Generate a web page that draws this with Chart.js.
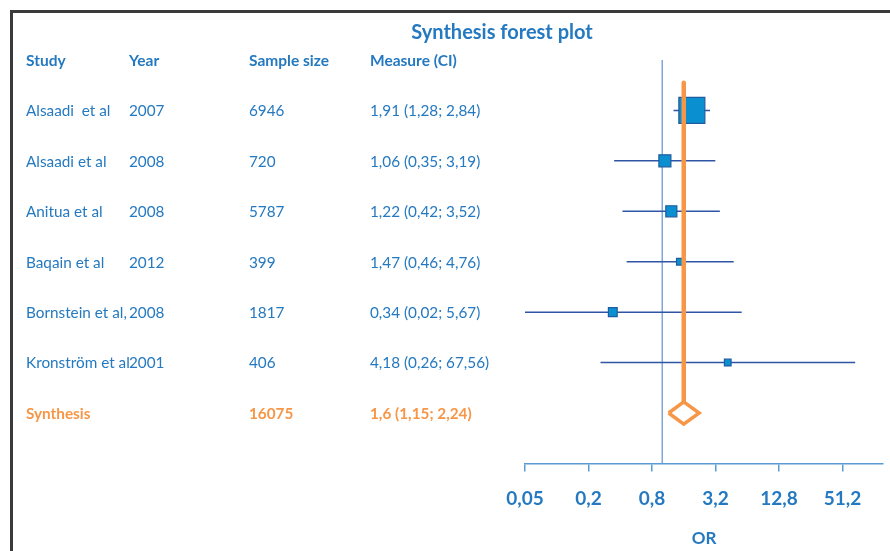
<!DOCTYPE html>
<html lang="en">
<head>
    <meta charset="UTF-8">
    <title>Synthesis forest plot</title>
    <script src="https://cdn.jsdelivr.net/npm/chart.js@4.4.0/dist/chart.umd.min.js"></script>
    <style>
        body { margin: 0; background: #ffffff; overflow: hidden; }
        .chart-container { position: relative; width: 890px; height: 551px; }
    </style>
</head>
<body>
    <div class="chart-container">
        <canvas id="forestChart"></canvas>
    </div>

    <script>
        // Study data
        const studies = ['Alsaadi  et al', 'Alsaadi et al', 'Anitua et al', 'Baqain et al', 'Bornstein et al,', 'Kronström et al'];
        const years = ['2007', '2008', '2008', '2012', '2008', '2001'];
        const sampleSizes = [6946, 720, 5787, 399, 1817, 406];
        const oddsRatios = [1.91, 1.06, 1.22, 1.47, 0.34, 4.18];
        const ciLower = [1.28, 0.35, 0.42, 0.46, 0.02, 0.26];
        const ciUpper = [2.84, 3.19, 3.52, 4.76, 5.67, 67.56];
        const weights = [61, 13, 11, 4, 7, 4];   // % weight, drives square size

        // Pooled estimate
        const synthLabel = 'Synthesis';
        const synthN = 16075;
        const synthOR = 1.6;
        const synthLower = 1.15;
        const synthUpper = 2.24;

        const headers = ['Study', 'Year', 'Sample size', 'Measure (CI)'];
        const tickValues = [0.05, 0.2, 0.8, 3.2, 12.8, 51.2];

        const blue = '#2479c0';
        const orange = '#f79646';
        const font = 'Lato, "Open Sans", sans-serif';
        const colX = [26, 129, 249, 370];

        const fmt = v => String(v).replace('.', ',');
        const measureText = (m, lo, hi) => fmt(m) + ' (' + fmt(lo) + '; ' + fmt(hi) + ')';

        const synthRow = studies.length;
        const diamondHalf = 0.22;

        // Frame, title and the table on the left
        const tablePlugin = {
            id: 'tablePlugin',
            beforeDraw(chart) {
                const ctx = chart.ctx;
                ctx.save();
                ctx.fillStyle = '#ffffff';
                ctx.fillRect(0, 0, chart.width, chart.height);
                ctx.fillStyle = '#3a3a3a';
                ctx.fillRect(10, 10, chart.width - 10, 3);
                ctx.fillRect(10, 10, 3, chart.height - 10);
                ctx.restore();
            },
            afterDraw(chart) {
                const ctx = chart.ctx;
                const y = chart.scales.y;
                ctx.save();
                ctx.textBaseline = 'middle';

                ctx.fillStyle = blue;
                ctx.textAlign = 'center';
                ctx.font = 'bold 20px ' + font;
                ctx.fillText('Synthesis forest plot', 502, 33);

                ctx.textAlign = 'left';
                ctx.font = 'bold 15.5px ' + font;
                headers.forEach((h, i) => ctx.fillText(h, colX[i], y.getPixelForValue(-1) + 1));

                ctx.font = '15.3px ' + font;
                studies.forEach((s, i) => {
                    const py = y.getPixelForValue(i) + 1;
                    ctx.fillText(s, colX[0], py);
                    ctx.fillText(years[i], colX[1], py);
                    ctx.fillText(String(sampleSizes[i]), colX[2], py);
                    ctx.fillText(measureText(oddsRatios[i], ciLower[i], ciUpper[i]), colX[3], py);
                });

                const sy = y.getPixelForValue(synthRow) + 1;
                ctx.fillStyle = orange;
                ctx.font = 'bold 15.3px ' + font;
                ctx.fillText(synthLabel, colX[0], sy);
                ctx.fillText(String(synthN), colX[2], sy);
                ctx.fillText(measureText(synthOR, synthLower, synthUpper), colX[3], sy);
                ctx.restore();
            }
        };

        const ciDatasets = studies.map((s, i) => ({
            label: s + ' CI',
            data: [{ x: ciLower[i], y: i }, { x: ciUpper[i], y: i }],
            showLine: true,
            borderColor: '#2f55a4',
            borderWidth: 1.5,
            pointRadius: 0,
            order: 3
        }));

        new Chart(document.getElementById('forestChart'), {
            type: 'scatter',
            data: {
                datasets: [
                    {
                        label: 'No effect',
                        data: [{ x: 1, y: -1 }, { x: 1, y: synthRow + 1 }],
                        showLine: true,
                        borderColor: '#6a9ad4',
                        borderWidth: 1.3,
                        pointRadius: 0,
                        order: 4
                    },
                    ...ciDatasets,
                    {
                        label: 'OR',
                        data: oddsRatios.map((v, i) => ({ x: v, y: i })),
                        pointStyle: 'rect',
                        pointRadius: weights.map(w => 3.33 * Math.sqrt(w) / Math.SQRT2),
                        backgroundColor: '#0a8fd0',
                        borderColor: '#1f5c9f',
                        borderWidth: 1.2,
                        order: 2
                    },
                    {
                        label: 'Synthesis line',
                        data: [{ x: synthOR, y: -0.55 }, { x: synthOR, y: synthRow - diamondHalf }],
                        showLine: true,
                        borderColor: orange,
                        borderWidth: 4.5,
                        borderCapStyle: 'round',
                        pointRadius: 0,
                        order: 1
                    },
                    {
                        label: 'Synthesis',
                        data: [
                            { x: synthLower, y: synthRow },
                            { x: synthOR, y: synthRow - diamondHalf },
                            { x: synthUpper, y: synthRow },
                            { x: synthOR, y: synthRow + diamondHalf },
                            { x: synthLower, y: synthRow }
                        ],
                        showLine: true,
                        borderColor: orange,
                        borderWidth: 3.5,
                        borderJoinStyle: 'miter',
                        pointRadius: 0,
                        order: 0
                    }
                ]
            },
            options: {
                responsive: true,
                maintainAspectRatio: false,
                animation: false,
                layout: {
                    // big squares would otherwise push the plot area in
                    autoPadding: false,
                    padding: { left: 525, right: 7, top: 60, bottom: 2.4 }
                },
                plugins: {
                    legend: { display: false },
                    tooltip: { enabled: false }
                },
                scales: {
                    x: {
                        type: 'logarithmic',
                        min: 0.05,
                        max: 124,
                        bounds: 'data',
                        afterBuildTicks: scale => {
                            scale.ticks = tickValues.map(v => ({ value: v }));
                        },
                        grid: {
                            drawOnChartArea: false,
                            drawTicks: true,
                            tickLength: 8,
                            color: '#5b9bd5',
                            lineWidth: 1.5
                        },
                        border: { color: '#5b9bd5', width: 1.5 },
                        ticks: {
                            autoSkip: false,
                            maxRotation: 0,
                            padding: 16,
                            color: blue,
                            font: { family: font, size: 19, weight: 'bold' },
                            callback: v => fmt(v)
                        },
                        title: {
                            display: true,
                            text: 'OR',
                            color: blue,
                            font: { family: font, size: 17, weight: 'bold' },
                            padding: { top: 2, bottom: 0 }
                        }
                    },
                    y: {
                        type: 'linear',
                        display: false,
                        reverse: true,
                        min: -1,
                        max: synthRow + 1
                    }
                }
            },
            plugins: [tablePlugin]
        });
    </script>
</body>
</html>
